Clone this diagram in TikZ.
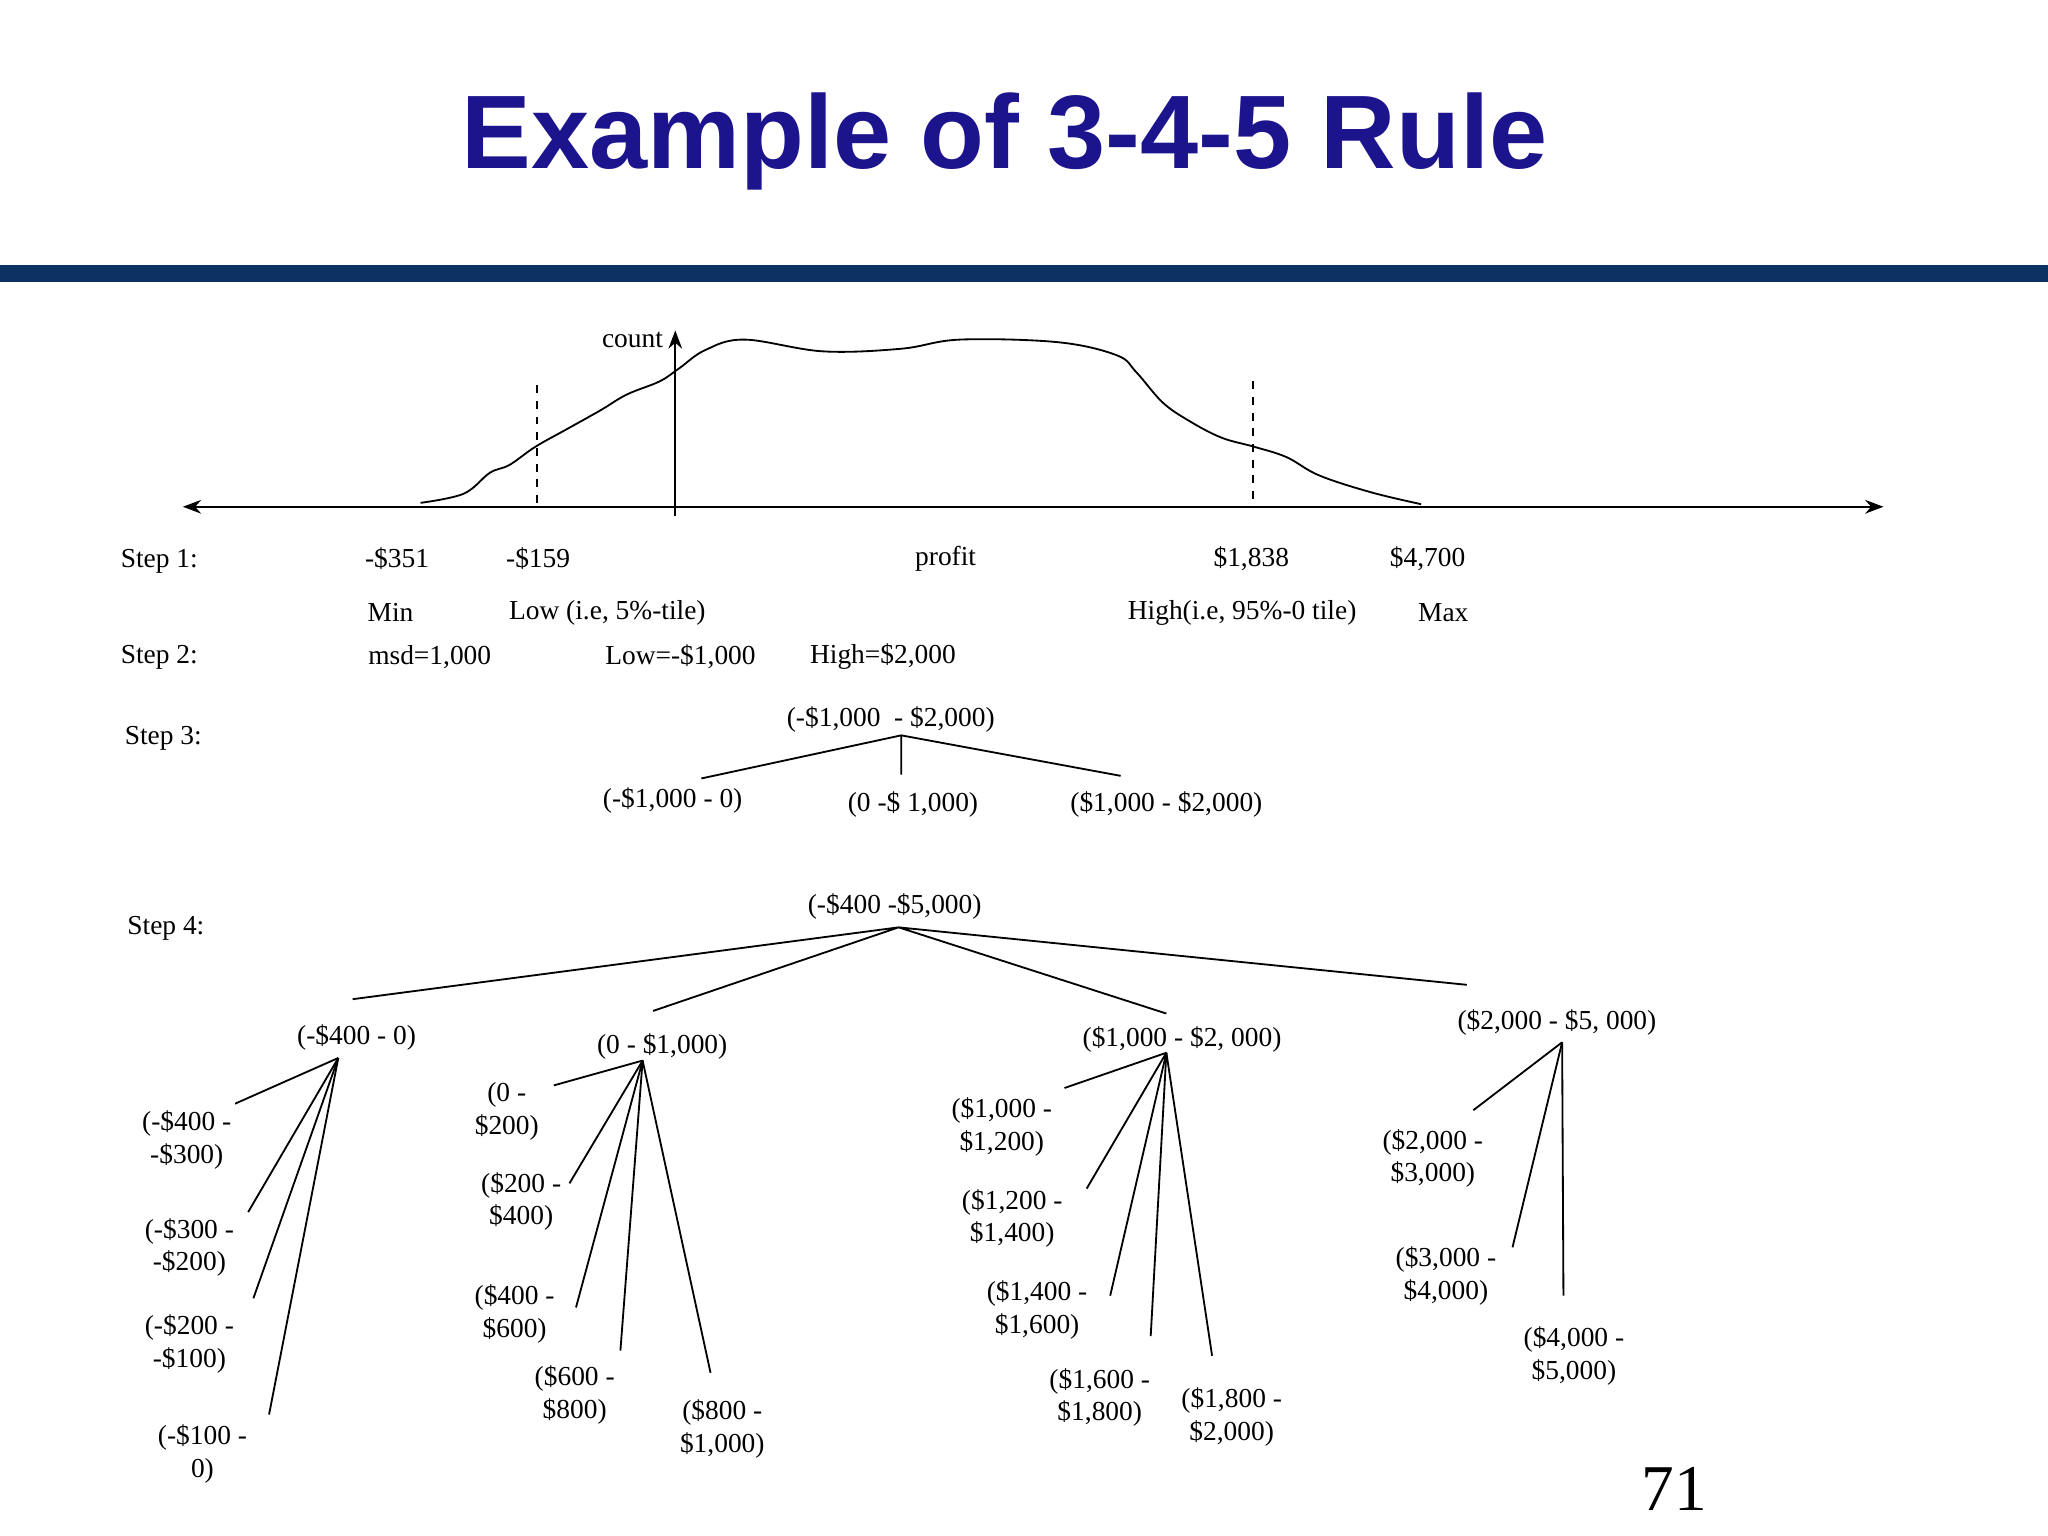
\documentclass[tikz,border=0pt]{standalone}
\usepackage{fontspec}
\setmainfont{Liberation Serif}
\newfontfamily\titlefont{Liberation Sans}
\usetikzlibrary{arrows.meta}
\definecolor{ttl}{RGB}{28,20,140}
\definecolor{bar}{RGB}{12,50,100}
\begin{document}
\begin{tikzpicture}[x=0.5pt,y=-0.5pt,
  txt/.style={inner sep=0pt,font=\fontsize{10.5}{12.5}\selectfont,align=center},
  ln/.style={line width=0.7pt}]
\useasboundingbox (0,0) rectangle (1568,1176);
\fill[white] (0,0) rectangle (1568,1176);
\node[text=ttl,font=\titlefont\bfseries\fontsize{40}{44}\selectfont] (title) at (769,108) {Example of 3-4-5 Rule};
\fill[bar] (0,203) rectangle (1568,216);
% axes
\coordinate (xl) at (140,388); \coordinate (xr) at (1442,388);
\draw[ln,{Stealth[length=7pt]}-{Stealth[length=7pt]}] (xl) -- (xr);
\coordinate (yb) at (517,395); \coordinate (yt) at (517,253);
\draw[ln,-{Stealth[length=7pt]}] (yb) -- (yt);
\node[txt,anchor=east] (count) at (508,260) {count};
\draw[ln,dashed] (411,295) -- (411,387);
\draw[ln,dashed] (959,292) -- (959,383);
\draw[ln] plot[smooth,tension=0.6] coordinates {(322,385) (355,378) (375,362) (390,356) (410,342) (435,328) (460,314) (480,302) (505,292) (520,282) (540,268) (570,260) (630,269) (690,267) (735,260) (810,262) (855,272) (870,285) (890,308) (910,322) (935,335) (960,342) (985,350) (1010,364) (1050,377) (1088,386)};
% steps
\node[txt] (s1) at (122,430) {Step 1:};
\node[txt] (s2) at (122,503) {Step 2:};
\node[txt] (s3) at (125,565) {Step 3:};
\node[txt] (s4) at (127,711) {Step 4:};
\node[txt] (a1) at (304,428) {-\$351};
\node[txt] (a2) at (412,428) {-\$159};
\node[txt] (a3) at (724,428) {profit};
\node[txt] (a4) at (958,428) {\$1,838};
\node[txt] (a5) at (1093,428) {\$4,700};
\node[txt] (b1) at (299,469) {Min};
\node[txt] (b2) at (465,469) {Low (i.e, 5\%-tile)};
\node[txt] (b3) at (951,469) {High(i.e, 95\%-0 tile)};
\node[txt] (b4) at (1105,469) {Max};
\node[txt] (c1) at (329,503) {msd=1,000};
\node[txt] (c2) at (521,503) {Low=-\$1,000};
\node[txt] (c3) at (676,503) {High=\$2,000};
% step3
\node[txt] (r3) at (682,551) {(-\$1,000 \ - \$2,000)};
\coordinate (h3) at (690,563);
\coordinate (e31) at (537,596); \coordinate (e32) at (690,593); \coordinate (e33) at (858,594);
\draw[ln] (h3) -- (e31) (h3) -- (e32) (h3) -- (e33);
\node[txt] (t31) at (515,613) {(-\$1,000 - 0)};
\node[txt] (t32) at (699,616) {(0 -\$ 1,000)};
\node[txt] (t33) at (893,616) {(\$1,000 - \$2,000)};
% step4
\node[txt] (r4) at (685,694) {(-\$400 -\$5,000)};
\coordinate (h4) at (688,710);
\coordinate (e41) at (270,765); \coordinate (e42) at (500,774); \coordinate (e43) at (893,776); \coordinate (e44) at (1123,754);
\draw[ln] (h4) -- (e41) (h4) -- (e42) (h4) -- (e43) (h4) -- (e44);
% group 1
\node[txt] (g1) at (273,794) {(-\$400 - 0)};
\coordinate (h1) at (259,810);
\foreach \p in {(180,845),(190,928),(194,994),(206,1083)} \draw[ln] (h1) -- \p;
\node[txt] (g11) at (143,873) {(-\$400 -\\-\$300)};
\node[txt] (g12) at (145,955) {(-\$300 -\\-\$200)};
\node[txt] (g13) at (145,1029) {(-\$200 -\\-\$100)};
\node[txt] (g14) at (155,1113) {(-\$100 -\\0)};
% group 2
\node[txt] (g2) at (507,801) {(0 - \$1,000)};
\coordinate (h2) at (492,812);
\foreach \p in {(424,831),(436,906),(441,1001),(475,1034),(544,1051)} \draw[ln] (h2) -- \p;
\node[txt] (g21) at (388,851) {(0 -\\\$200)};
\node[txt] (g22) at (399,920) {(\$200 -\\\$400)};
\node[txt] (g23) at (394,1006) {(\$400 -\\\$600)};
\node[txt] (g24) at (440,1068) {(\$600 -\\\$800)};
\node[txt] (g25) at (553,1094) {(\$800 -\\\$1,000)};
% group 3
\node[txt] (g3) at (905,796) {(\$1,000 - \$2, 000)};
\coordinate (hh3) at (893,806);
\foreach \p in {(815,833),(832,910),(850,992),(881,1023),(928,1038)} \draw[ln] (hh3) -- \p;
\node[txt] (g31) at (767,863) {(\$1,000 -\\\$1,200)};
\node[txt] (g32) at (775,933) {(\$1,200 -\\\$1,400)};
\node[txt] (g33) at (794,1003) {(\$1,400 -\\\$1,600)};
\node[txt] (g34) at (842,1070) {(\$1,600 -\\\$1,800)};
\node[txt] (g35) at (943,1085) {(\$1,800 -\\\$2,000)};
% group 4
\node[txt] (g4) at (1192,783) {(\$2,000 - \$5, 000)};
\coordinate (hh4) at (1196,798);
\foreach \p in {(1128,850),(1158,955),(1197,992)} \draw[ln] (hh4) -- \p;
\node[txt] (g41) at (1097,887) {(\$2,000 -\\\$3,000)};
\node[txt] (g42) at (1107,977) {(\$3,000 -\\\$4,000)};
\node[txt] (g43) at (1205,1038) {(\$4,000 -\\\$5,000)};
\node[inner sep=0pt,font=\fontsize{25}{28}\selectfont] (pg) at (1282,1140) {71};
\end{tikzpicture}
\end{document}
